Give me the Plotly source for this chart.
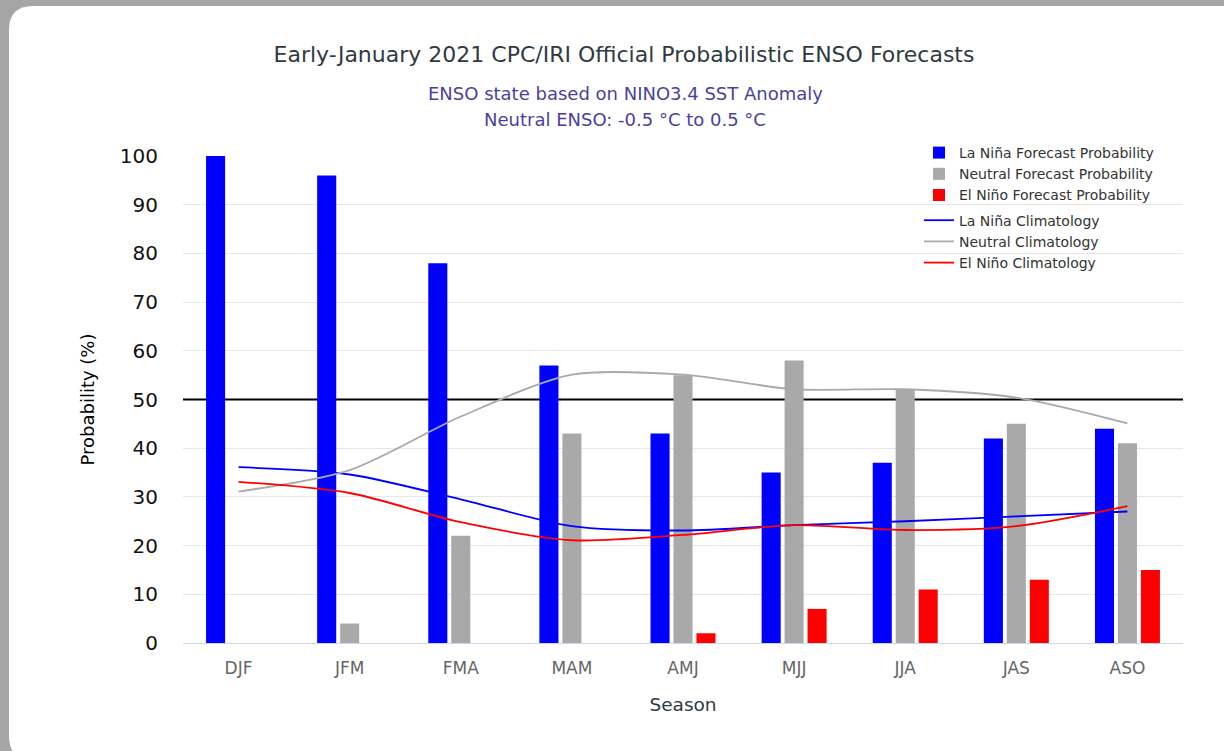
import plotly.graph_objects as go

seasons = ["DJF", "JFM", "FMA", "MAM", "AMJ", "MJJ", "JJA", "JAS", "ASO"]

# forecast probabilities (%)
lanina_fc = [100, 96, 78, 57, 43, 35, 37, 42, 44]
neutral_fc = [0, 4, 22, 43, 55, 58, 52, 45, 41]
elnino_fc = [0, 0, 0, 0, 2, 7, 11, 13, 15]

# climatology (%)
lanina_clim = [36.1, 34.6, 29.5, 24.0, 23.1, 24.2, 25.0, 26.0, 27.0]
neutral_clim = [31.1, 35.5, 46.5, 55.1, 55.1, 52.1, 52.1, 50.4, 45.1]
elnino_clim = [33.1, 30.8, 24.8, 21.1, 22.2, 24.2, 23.2, 24.0, 28.1]

threshold = 50

BLUE = "#0000ff"
GRAY = "#a9a9a9"
RED = "#ff0000"
FONT = "DejaVu Sans"

fig = go.Figure()

fig.add_trace(go.Bar(x=seasons, y=lanina_fc, name="La Niña Forecast Probability",
                     marker=dict(color=BLUE, line=dict(width=0)), legendgroup="fc"))
fig.add_trace(go.Bar(x=seasons, y=neutral_fc, name="Neutral Forecast Probability",
                     marker=dict(color=GRAY, line=dict(width=0)), legendgroup="fc"))
fig.add_trace(go.Bar(x=seasons, y=elnino_fc, name="El Niño Forecast Probability",
                     marker=dict(color=RED, line=dict(width=0)), legendgroup="fc"))

for vals, name, col in [(lanina_clim, "La Niña Climatology", BLUE),
                        (neutral_clim, "Neutral Climatology", GRAY),
                        (elnino_clim, "El Niño Climatology", RED)]:
    fig.add_trace(go.Scatter(x=seasons, y=vals, mode="lines", name=name, legendgroup="clim",
                             line=dict(color=col, width=1.8, shape="spline", smoothing=0.8)))

# plot area in pixels
L, R, T, B = 183, 41, 156, 108
W, H = 1224, 751
pw, ph = W - L - R, H - T - B


def px(x):
    return (x - L) / pw


def py(y):
    return (H - B - y) / ph


# white rounded card on the gray frame
x0, y0, x1, y1, r = 9, 6, 1240, 760, 24
card = (f"M {px(x0 + r)} {py(y0)} L {px(x1)} {py(y0)} L {px(x1)} {py(y1)} "
        f"L {px(x0 + r)} {py(y1)} Q {px(x0)} {py(y1)} {px(x0)} {py(y1 - r)} "
        f"L {px(x0)} {py(y0 + r)} Q {px(x0)} {py(y0)} {px(x0 + r)} {py(y0)} Z")
fig.add_shape(type="path", path=card, xref="paper", yref="paper",
              fillcolor="white", line=dict(width=0), layer="below")

# 50% line: above the grid, below the bars
fig.add_shape(type="line", xref="x", yref="y", x0=-0.5, x1=len(seasons) - 0.5,
              y0=threshold, y1=threshold, line=dict(color="black", width=2), layer="between")

fig.add_annotation(text="ENSO state based on NINO3.4 SST Anomaly", xref="paper", yref="paper",
                   x=px(625), y=py(93), showarrow=False, yanchor="middle",
                   font=dict(family=FONT, size=18, color="#4b3f9e"))
fig.add_annotation(text="Neutral ENSO: -0.5 °C to 0.5 °C", xref="paper", yref="paper",
                   x=px(625), y=py(119), showarrow=False, yanchor="middle",
                   font=dict(family=FONT, size=18, color="#4b3f9e"))

fig.update_layout(
    width=W, height=H,
    margin=dict(l=L, r=R, t=T, b=B),
    paper_bgcolor="#a5a5a5",
    plot_bgcolor="white",
    font=dict(family=FONT),
    title=dict(text="Early-January 2021 CPC/IRI Official Probabilistic ENSO Forecasts",
               x=624 / W, y=1 - 54 / H, xanchor="center", yanchor="middle",
               font=dict(family=FONT, size=22, color="#2f3a42")),
    barmode="group",
    bargap=0.38,
    bargroupgap=0.17,
    showlegend=True,
    legend=dict(x=px(919), y=py(137), xanchor="left", yanchor="top",
                bgcolor="rgba(0,0,0,0)", traceorder="grouped", tracegroupgap=4,
                font=dict(family=FONT, size=14, color="#333333")),
    xaxis=dict(showgrid=False, showline=True, linecolor="#ccd6eb", linewidth=1,
               range=[-0.5, len(seasons) - 0.5],
               tickfont=dict(size=17, color="#666666"), ticklabelstandoff=10,
               title=dict(text="Season", font=dict(size=18.5, color="#2f3a42"), standoff=20)),
    yaxis=dict(range=[0, 100], dtick=10, showgrid=True, gridcolor="#e6e6e6", zeroline=False,
               tickfont=dict(size=20, color="#111111"), ticklabelstandoff=24,
               title=dict(text="Probability (%)", font=dict(size=18, color="black"), standoff=20)),
)

fig.write_html("out.html", config={"displayModeBar": False},
               post_script="document.body.style.margin='0';")
